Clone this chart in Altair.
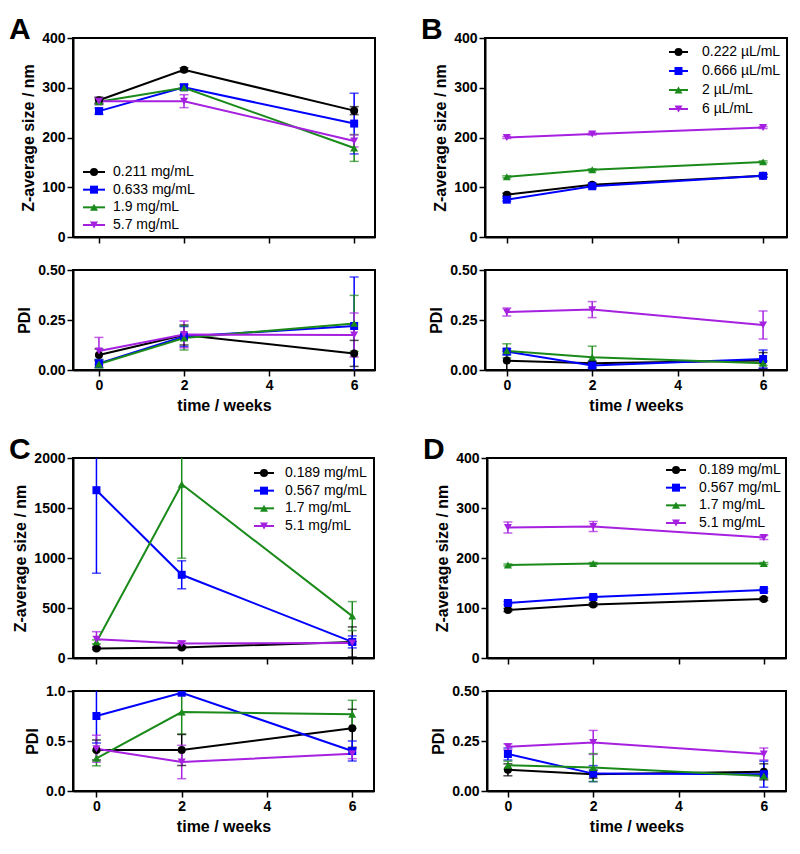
import altair as alt
import pandas as pd

FONT = "Liberation Sans"
weeks = [0, 2, 6]
x_ticks = [0, 2, 4, 6]
colors = ["#000000", "#0000FF", "#1A8A1A", "#A620E0"]
shapes = ["circle", "square", "triangle-up", "triangle-down"]

# ---------------- Panel A ----------------
a_series = ["0.211 mg/mL", "0.633 mg/mL", "1.9 mg/mL", "5.7 mg/mL"]
a_size = [[275, 336, 254], [253, 301, 228], [272, 300, 179], [273, 273, 193]]
a_size_err = [[6, 4, 8], [6, 6, 61], [5, 5, 27], [7, 13, 12]]
a_pdi = [[0.075, 0.175, 0.083], [0.033, 0.167, 0.22], [0.03, 0.16, 0.233], [0.095, 0.178, 0.175]]
a_pdi_err = [[0.03, 0.05, 0.065], [0.02, 0.05, 0.245], [0.02, 0.06, 0.14], [0.068, 0.067, 0.11]]

# ---------------- Panel B ----------------
b_series = ["0.222 \u00b5L/mL", "0.666 \u00b5L/mL", "2 \u00b5L/mL", "6 \u00b5L/mL"]
b_size = [[85, 105, 123], [75, 102, 123], [121, 135, 151], [200, 207, 220]]
b_size_err = [[3, 3, 3], [3, 3, 3], [2, 2, 2], [2, 2, 2]]
b_pdi = [[0.047, 0.034, 0.047], [0.092, 0.022, 0.055], [0.096, 0.064, 0.034], [0.29, 0.302, 0.225]]
b_pdi_err = [[0.047, 0.01, 0.04], [0.015, 0.01, 0.045], [0.035, 0.055, 0.01], [0.02, 0.04, 0.07]]

# ---------------- Panel C ----------------
c_series = ["0.189 mg/mL", "0.567 mg/mL", "1.7 mg/mL", "5.1 mg/mL"]
c_size = [[94, 104, 161], [1678, 832, 161], [161, 1738, 419], [188, 144, 151]]
c_size_err = [[10, 10, 150], [830, 140, 60], [20, 740, 145], [75, 25, 15]]
c_pdi = [[0.41, 0.41, 0.627], [0.75, 0.983, 0.40], [0.327, 0.79, 0.767], [0.423, 0.29, 0.373]]
c_pdi_err = [[0.1, 0.155, 0.19], [0.27, 0.02, 0.1], [0.075, 0.22, 0.14], [0.135, 0.167, 0.05]]

# ---------------- Panel D ----------------
d_series = ["0.189 mg/mL", "0.567 mg/mL", "1.7 mg/mL", "5.1 mg/mL"]
d_size = [[96, 107, 118], [110, 122, 136], [186, 189, 189], [261, 263, 241]]
d_size_err = [[3, 3, 3], [3, 3, 3], [2, 2, 2], [11, 10, 4]]
d_pdi = [[0.106, 0.084, 0.096], [0.185, 0.087, 0.084], [0.129, 0.117, 0.075], [0.221, 0.243, 0.185]]
d_pdi_err = [[0.03, 0.02, 0.04], [0.03, 0.04, 0.065], [0.02, 0.07, 0.01], [0.015, 0.06, 0.03]]


def long_df(series, vals, errs):
    rows = []
    for i, s in enumerate(series):
        for j, w in enumerate(weeks):
            v = vals[i][j]
            e = errs[i][j]
            rows.append(dict(series=s, idx=i, week=w, value=v, lo=v - e, hi=v + e))
    return pd.DataFrame(rows)


def subplot(series, vals, errs, ydom, yticks, yfmt, ytitle, xdom, width, height,
            xlabels, legend=None, letter=None):
    df = long_df(series, vals, errs)
    base = alt.Chart(df)
    x_axis = alt.Axis(values=x_ticks, labels=xlabels, format="d",
                      title="time / weeks" if xlabels else None)
    x = alt.X("week:Q", scale=alt.Scale(domain=xdom, nice=False, zero=False), axis=x_axis)
    yscale = alt.Scale(domain=ydom, nice=False, zero=False)
    y_axis = alt.Axis(values=yticks, format=yfmt, title=ytitle)
    color = alt.Color("series:N", scale=alt.Scale(domain=series, range=colors), legend=None)
    shape = alt.Shape("series:N", scale=alt.Scale(domain=series, range=shapes), legend=None)

    bars = base.mark_rule(strokeWidth=1.5, clip=True).encode(
        x=x, y=alt.Y("lo:Q", scale=yscale, axis=y_axis), y2="hi:Q", color=color)
    cap_lo = base.mark_tick(orient="horizontal", size=9, thickness=1.5, clip=True).encode(
        x=x, y=alt.Y("lo:Q", scale=yscale, axis=y_axis), color=color)
    cap_hi = base.mark_tick(orient="horizontal", size=9, thickness=1.5, clip=True).encode(
        x=x, y=alt.Y("hi:Q", scale=yscale, axis=y_axis), color=color)
    line = base.mark_line(strokeWidth=2, clip=True).encode(
        x=x, y=alt.Y("value:Q", scale=yscale, axis=y_axis), color=color, detail="series:N")
    pts = base.mark_point(filled=True, size=64, opacity=1, clip=True).encode(
        x=x, y=alt.Y("value:Q", scale=yscale, axis=y_axis), color=color, shape=shape)

    main_layers = [bars, cap_lo, cap_hi, line, pts]
    if letter is not None:
        txt, dx, dy = letter
        main_layers.append(
            alt.Chart(pd.DataFrame({"t": [txt]})).mark_text(
                align="left", baseline="alphabetic", fontSize=30, fontWeight="bold",
                font=FONT, color="black").encode(text="t:N", x=alt.value(dx), y=alt.value(dy)))
    main = alt.layer(*main_layers)

    if legend is None:
        return main.properties(width=width, height=height)

    yr, lx0, lx1, tx = legend
    ldf = pd.DataFrame({"series": series, "idx": list(range(len(series)))})
    ly = alt.Y("idx:Q", scale=alt.Scale(domain=[0, len(series) - 1], range=list(yr),
                                        nice=False, zero=False), axis=None)
    lrule = alt.Chart(ldf).mark_rule(strokeWidth=2).encode(
        y=ly, x=alt.value(lx0), x2=alt.value(lx1), color=color)
    lpt = alt.Chart(ldf).mark_point(filled=True, size=64, opacity=1).encode(
        y=ly, x=alt.value((lx0 + lx1) / 2), color=color, shape=shape)
    ltxt = alt.Chart(ldf).mark_text(align="left", baseline="middle", fontSize=14,
                                    font=FONT, color="black").encode(
        y=ly, x=alt.value(tx), text="series:N")
    leg = alt.layer(lrule, lpt, ltxt)
    return alt.layer(main, leg).resolve_scale(y="independent").properties(width=width, height=height)


def panel(series, size, size_err, pdi, pdi_err, size_dom, size_ticks, pdi_dom, pdi_ticks,
          pdi_fmt, xdom, width, top_h, legend, letter):
    top = subplot(series, size, size_err, size_dom, size_ticks, "d", "Z-average size / nm",
                  xdom, width, top_h, False, legend=legend, letter=letter)
    bot = subplot(series, pdi, pdi_err, pdi_dom, pdi_ticks, pdi_fmt, "PDI",
                  xdom, width, 100, True)
    return alt.vconcat(top, bot, spacing=17)


colA = panel(a_series, a_size, a_size_err, a_pdi, a_pdi_err, [0, 400], [0, 100, 200, 300, 400],
             [0, 0.5], [0, 0.25, 0.5], ".2f", [-0.61, 6.49], 302, 199,
             ([134, 187], 10, 32, 40), ("A", -64, 1))
colB = panel(b_series, b_size, b_size_err, b_pdi, b_pdi_err, [0, 400], [0, 100, 200, 300, 400],
             [0, 0.5], [0, 0.25, 0.5], ".2f", [-0.51, 6.56], 302, 199,
             ([14, 71], 184, 203, 217), ("B", -64, 1))
colC = panel(c_series, c_size, c_size_err, c_pdi, c_pdi_err, [0, 2000], [0, 500, 1000, 1500, 2000],
             [0, 1], [0, 0.5, 1], ".1f", [-0.55, 6.51], 301, 200,
             ([15, 68], 181, 201, 212), ("C", -64, 1))
colD = panel(d_series, d_size, d_size_err, d_pdi, d_pdi_err, [0, 400], [0, 100, 200, 300, 400],
             [0, 0.5], [0, 0.25, 0.5], ".2f", [-0.49, 6.52], 299, 200,
             ([12, 65], 179, 199, 212), ("D", -64, 1))

row1 = alt.hconcat(colA, colB, spacing=44)
row2 = alt.hconcat(colC, colD, spacing=47)

chart = alt.concat(row1, row2, columns=1, align="none", spacing=20).properties(
    padding={"left": 0, "top": 6, "right": 0, "bottom": 0}
).configure(
    background="white"
).configure_view(
    stroke="black", strokeWidth=2
).configure_axis(
    labelFont=FONT, labelFontSize=14, labelFontWeight="bold", labelColor="black",
    titleFont=FONT, titleFontSize=16, titleFontWeight="bold", titleColor="black",
    tickColor="black", tickWidth=1.5, tickSize=6, domainColor="black", domainWidth=2,
    grid=False, labelPadding=2, titlePadding=5
)

chart.save("out.html", embed_options={"renderer": "svg", "actions": False})
